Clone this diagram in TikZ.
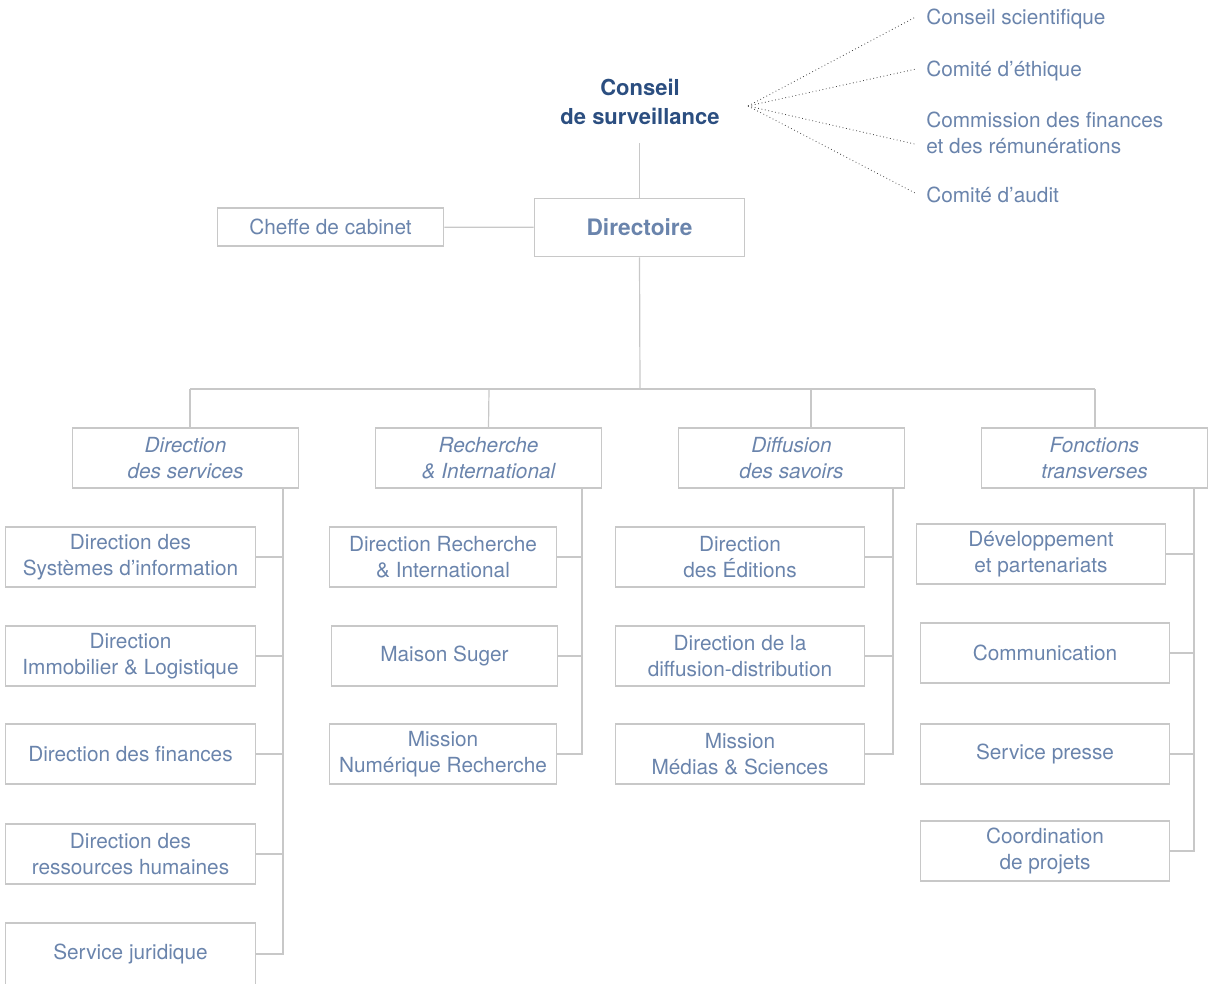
\documentclass[tikz,border=0pt]{standalone}
\usepackage{fontspec}
\setmainfont{TeX Gyre Heros}
\definecolor{txtblue}{RGB}{106,132,172}
\definecolor{navy}{RGB}{43,78,128}
\definecolor{linegray}{RGB}{200,200,200}
\definecolor{dotgray}{RGB}{70,70,70}
\begin{document}
\begin{tikzpicture}[x=0.75pt,y=-0.75pt,
    box/.style={draw=linegray,line width=0.9pt,text=txtblue,align=center,inner sep=0pt,
      font=\fontsize{15.6}{19.5}\selectfont},
    head/.style={box,minimum width=170pt,minimum height=45pt,
      font=\fontsize{15.6}{19.5}\selectfont\itshape},
    unit/.style={box,minimum width=187pt,minimum height=45pt},
    narrow/.style={box,minimum width=170pt,minimum height=45pt},
    item/.style={text=txtblue,align=left,anchor=west,inner sep=0pt,
      font=\fontsize{15.6}{19.5}\selectfont},
    link/.style={draw=linegray,line width=0.9pt},
    dots/.style={draw=dotgray,dotted,line width=0.6pt}]
    \useasboundingbox (0,0) rectangle (1216,983);

    % top
    \node[text=navy,align=center,font=\fontsize{16.5}{22}\selectfont\bfseries] (cs) at (640,102)
        {Conseil\\de surveillance};
    \node[box,minimum width=158pt,minimum height=44pt,font=\fontsize{17}{20}\selectfont\bfseries] (dir) at (639.5,227.5) {Directoire};
    \node[box,minimum width=170pt,minimum height=28.5pt] (cab) at (330.5,227) {Cheffe de cabinet};
    \draw[link] (dir.north) -- ++(0,-55);
    \draw[link] (cab) -- (dir);

    % comites
    \coordinate (fan) at (748,106);
    \node[item] (sci) at (926,18.5) {Conseil scientifique};
    \node[item] (eth) at (926,70.5) {Comité d’éthique};
    \node[item] (fin) at (926,132.5) {Commission des finances\\et des rémunérations};
    \node[item] (aud) at (926,194.5) {Comité d’audit};
    \draw[dots] (fan) -- ([xshift=-8pt,yshift=1pt]sci.west);
    \draw[dots] (fan) -- ([xshift=-8pt,yshift=1pt]eth.west);
    \draw[dots] (fan) -- ([xshift=-8pt,yshift=-8.75pt]fin.west);
    \draw[dots] (fan) -- ([xshift=-8pt,yshift=1pt]aud.west);

    % poles
    \node[head] (h1) at (185.5,458) {Direction\\des services};
    \node[head] (h2) at (488.5,458) {Recherche\\\& International};
    \node[head] (h3) at (791.5,458) {Diffusion\\des savoirs};
    \node[head] (h4) at (1094.5,458) {Fonctions\\transverses};
    \coordinate (hub) at (640,389);
    \draw[link] (dir.south) -- (hub);
    \draw[link] (190,389) -- (1095,389);
    \draw[link] (190,389) -- (190,428);
    \draw[link] (489,389) -- (h2.north);
    \draw[link] (811,389) -- (811,428);
    \draw[link] (1095,389) -- (1095,428);

    % direction des services
    \node[unit] (a1) at (130.5,557) {Direction des\\Systèmes d’information};
    \node[unit] (a2) at (130.5,656) {Direction\\Immobilier \& Logistique};
    \node[unit] (a3) at (130.5,754) {Direction des finances};
    \node[unit] (a4) at (130.5,854) {Direction des\\ressources humaines};
    \node[unit,minimum height=46.5pt] (a5) at (130.5,954) {Service juridique};
    \coordinate (b1) at (283,488);
    \draw[link] (b1) |- (a5.east);
    \foreach \n in {a1,a2,a3,a4}
        \draw[link] (\n.east) -- (\n.east -| b1);

    % recherche
    \node[narrow] (r1) at (443,557) {Direction Recherche\\\& International};
    \node[narrow] (r2) at (444.5,656) {Maison Suger};
    \node[narrow] (r3) at (443,754) {Mission\\Numérique Recherche};
    \coordinate (b2) at (582,488);
    \draw[link] (b2) |- (r3.east);
    \foreach \n in {r1,r2}
        \draw[link] (\n.east) -- (\n.east -| b2);

    % diffusion
    \node[unit] (d1) at (740,557) {Direction\\des Éditions};
    \node[unit] (d2) at (740,656) {Direction de la\\diffusion-distribution};
    \node[unit] (d3) at (740,754) {Mission\\Médias \& Sciences};
    \coordinate (b3) at (893,488);
    \draw[link] (b3) |- (d3.east);
    \foreach \n in {d1,d2}
        \draw[link] (\n.east) -- (\n.east -| b3);

    % fonctions transverses
    \node[unit] (f1) at (1041,554) {Développement\\et partenariats};
    \node[unit] (f2) at (1045,653) {Communication};
    \node[unit] (f3) at (1045,754) {Service presse};
    \node[unit] (f4) at (1045,851) {Coordination\\de projets};
    \coordinate (b4) at (1194,488);
    \draw[link] (b4) |- (f4.east);
    \foreach \n in {f1,f2,f3}
        \draw[link] (\n.east) -- (\n.east -| b4);
\end{tikzpicture}
\end{document}
